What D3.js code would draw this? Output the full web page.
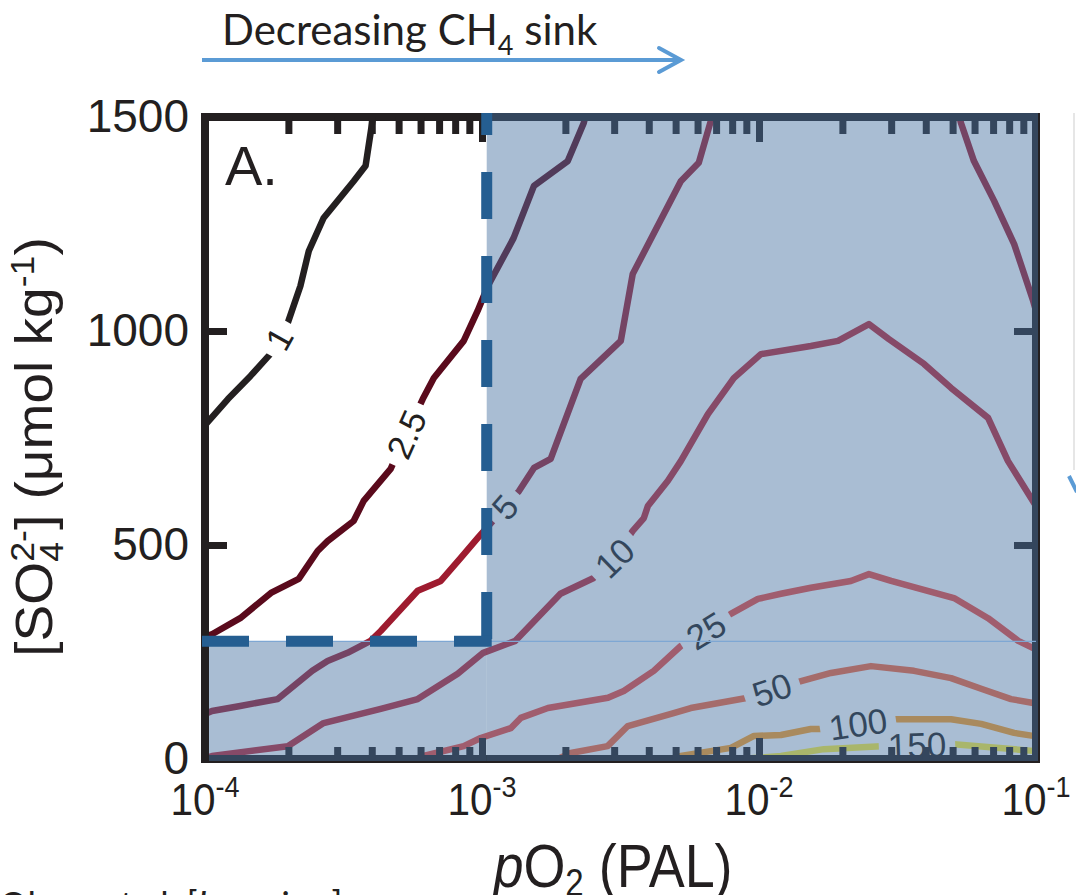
<!DOCTYPE html>
<html><head><meta charset="utf-8">
<script src="https://cdn.jsdelivr.net/npm/d3@7"></script>
<style>
html,body{margin:0;padding:0;background:#fff;}
svg{display:block;}
text{font-family:"Liberation Sans",Arial,sans-serif;fill:#231f20;}
</style></head><body>
<svg id="chart" width="1076" height="895"></svg>
<script>
// ---------------- data ----------------
const levels = ["1", "2.5", "5", "10", "25", "50", "100", "150"];
const levelColors = ["#231f20", "#5a0a1c", "#9e1b2f", "#bd2635", "#ee4a40", "#f8663c", "#ff9f22", "#fff23c"];

// contour lines: [pO2 (PAL), SO4 (umol/kg)]
const contour1 = [[1.0e-4, 780], [1.21e-4, 841], [1.46e-4, 895], [1.72e-4, 946], [1.99e-4, 1019], [2.21e-4, 1105], [2.37e-4, 1187], [2.68e-4, 1264], [3.44e-4, 1350], [3.80e-4, 1386], [4.03e-4, 1495], [4.1e-4, 1520]];
const contour2_5 = [[1.0e-4, 285], [1.064e-4, 292], [1.34e-4, 329], [1.73e-4, 388], [2.18e-4, 421], [2.55e-4, 486], [2.77e-4, 509], [3.44e-4, 556], [3.74e-4, 603], [4.68e-4, 678], [5.33e-4, 759], [6.11e-4, 841], [6.70e-4, 890], [8.59e-4, 977], [9.64e-4, 1047], [1.05e-3, 1105], [1.30e-3, 1217], [1.54e-3, 1339], [2.04e-3, 1397], [2.33e-3, 1486], [2.4e-3, 1520]];
const contour5 = [[1.0e-4, 105], [1.06e-4, 112], [1.34e-4, 124], [1.83e-4, 140], [2.44e-4, 206], [2.77e-4, 229], [3.27e-4, 248], [3.96e-4, 276], [4.31e-4, 299], [5.86e-4, 393], [7.10e-4, 416], [8.38e-4, 470], [9.64e-4, 516], [1.07e-3, 549], [1.21e-3, 589], [1.36e-3, 626], [1.54e-3, 680], [1.77e-3, 701], [2.27e-3, 888], [3.17e-3, 977], [3.50e-3, 1133], [5.22e-3, 1350], [6.06e-3, 1393], [6.70e-3, 1491], [6.8e-3, 1520]];
const contour5b = [[0.0520, 1520], [0.0536, 1486], [0.0597, 1397], [0.0706, 1304], [0.0834, 1203], [0.0977, 1070], [0.1, 1047]];
const contour10 = [[1.0e-4, 2], [1.06e-4, 7], [1.99e-4, 30], [2.68e-4, 84], [4.31e-4, 117], [5.86e-4, 140], [8.17e-4, 199], [1.01e-3, 248], [1.32e-3, 276], [1.92e-3, 386], [2.53e-3, 423], [3.01e-3, 470], [3.50e-3, 533], [3.84e-3, 563], [3.97e-3, 591], [4.69e-3, 650], [5.22e-3, 696], [6.54e-3, 806], [8.11e-3, 890], [0.01016, 946], [0.01539, 965], [0.01928, 977], [0.02494, 1016], [0.02944, 981], [0.03942, 923], [0.04936, 867], [0.06714, 797], [0.07925, 696], [0.09594, 610], [0.1, 591]];
const contour25 = [[5.76e-4, 0], [6.15e-4, 7], [8.59e-4, 30], [9.89e-4, 49], [1.27e-3, 72], [1.38e-3, 96], [1.73e-3, 119], [2.85e-3, 143], [3.25e-3, 159], [4.17e-3, 206], [5.22e-3, 264], [6.43e-3, 300], [7.91e-3, 339], [9.91e-3, 374], [0.0120, 386], [0.01539, 400], [0.02146, 416], [0.02494, 432], [0.02999, 416], [0.05058, 376], [0.06714, 329], [0.0863, 276], [0.0977, 259], [0.1, 257]];
const contour50 = [[1.88e-3, 0], [2.09e-3, 14], [2.84e-3, 30], [3.36e-3, 77], [4.92e-3, 107], [5.67e-3, 119], [9.12e-3, 143], [0.01114, 162], [0.01419, 182], [0.0182, 201], [0.02537, 217], [0.03628, 206], [0.04936, 189], [0.06339, 164], [0.08128, 140], [0.0977, 131], [0.1, 129]];
const contour100 = [[5.01e-3, 0], [5.22e-3, 7], [7.92e-3, 26], [9.59e-3, 54], [0.0120, 56], [0.01539, 70], [0.01714, 70], [0.02275, 82], [0.03121, 93], [0.04936, 93], [0.06339, 82], [0.08337, 61], [0.0977, 54], [0.1, 51]];
const contour150 = [[8.61e-3, 0], [0.0120, 7], [0.01714, 23], [0.02754, 30], [0.03718, 33], [0.04936, 35], [0.0977, 19], [0.1, 19]];

// label anchor points [pO2, SO4] (null = unlabeled branch)
const labelPoints = [[1.85e-4, 982], [5.33e-4, 759], [1.21e-3, 589], null, [3.01e-3, 470], [6.43e-3, 300], [0.01114, 162], [0.02275, 82], [0.03718, 33]];
const contourSets = [contour1, contour2_5, contour5, contour5b, contour10, contour25, contour50, contour100, contour150];
const contourLevels = ["1", "2.5", "5", "5", "10", "25", "50", "100", "150"];

const yTickValues = [0, 500, 1000, 1500];
const xMajorTicks = [1e-4, 1e-3, 1e-2, 1e-1];
const xTickExponents = ["-4", "-3", "-2", "-1"];

// shaded region bounds
const shadeMinPO2 = 1.04e-3;
const stripMaxSO4 = 275;

// ---------------- chart ----------------
const svg = d3.select("#chart");
const x = d3.scaleLog().domain([1e-4, 1e-1]).range([205, 1036]);
const y = d3.scaleLinear().domain([0, 1500]).range([759, 117]);
const [X0, X1] = x.range();
const [Y0, Y1] = y.range(); // Y0 bottom, Y1 top

const defs = svg.append("defs");
defs.append("clipPath").attr("id", "plotclip").append("rect")
  .attr("x", X0).attr("y", Y1).attr("width", X1 - X0).attr("height", Y0 - Y1);
const mask = defs.append("mask").attr("id", "labelmask")
  .attr("maskUnits", "userSpaceOnUse").attr("x", 0).attr("y", 0).attr("width", 1076).attr("height", 895);
mask.append("rect").attr("width", 1076).attr("height", 895).attr("fill", "white");

const line = d3.line().x(d => x(d[0])).y(d => y(d[1])).curve(d3.curveLinear);

const plot = svg.append("g").attr("clip-path", "url(#plotclip)");
const linesG = plot.append("g").attr("mask", "url(#labelmask)");
const labelsG = plot.append("g");

contourSets.forEach((pts, i) => {
  const col = levelColors[levels.indexOf(contourLevels[i])];
  linesG.append("path").datum(pts).attr("d", line)
    .attr("fill", "none").attr("stroke", col).attr("stroke-width", 6.5)
    .attr("stroke-linejoin", "round");
  const lp = labelPoints[i];
  if (!lp) return;
  const px = x(lp[0]), py = y(lp[1]);
  let best = Infinity, ang = 0;
  for (let k = 0; k < pts.length - 1; k++) {
    const ax = x(pts[k][0]), ay = y(pts[k][1]), bx = x(pts[k + 1][0]), by = y(pts[k + 1][1]);
    const dx = bx - ax, dy = by - ay;
    const t = Math.max(0, Math.min(1, ((px - ax) * dx + (py - ay) * dy) / (dx * dx + dy * dy)));
    const cx = ax + t * dx, cy = ay + t * dy;
    const d = Math.hypot(px - cx, py - cy);
    if (d < best) { best = d; ang = Math.atan2(dy, dx) * 180 / Math.PI; }
  }
  if (ang > 90) ang -= 180;
  if (ang < -90) ang += 180;
  const tr = `translate(${px},${py}) rotate(${ang})`;
  const t = labelsG.append("text").attr("transform", tr)
    .attr("text-anchor", "middle").attr("dy", "0.36em")
    .style("font-size", "35px").text(contourLevels[i]);
  const w = t.node().getComputedTextLength();
  const pad = 9;
  mask.append("rect").attr("transform", tr)
    .attr("x", -w / 2 - pad).attr("y", -14).attr("width", w + 2 * pad).attr("height", 28)
    .attr("fill", "black");
});

// frame
svg.append("rect").attr("x", X0).attr("y", Y1).attr("width", X1 - X0).attr("height", Y0 - Y1)
  .attr("fill", "none").attr("stroke", "#231f20").attr("stroke-width", 8);

// ticks
const allLogTicks = x.ticks();
const majorSet = new Set(xMajorTicks.map(v => v.toExponential(3)));
const minorTicks = allLogTicks.filter(v => !majorSet.has(v.toExponential(3)));
function styleTicks(g) {
  g.select(".domain").remove();
  g.selectAll(".tick line").attr("stroke", "#231f20").attr("stroke-width", 7);
  g.selectAll(".tick text").remove();
}
svg.append("g").attr("transform", `translate(0,${Y1})`)
  .call(d3.axisBottom(x).tickValues(minorTicks).tickSize(17).tickFormat("")).call(styleTicks);
svg.append("g").attr("transform", `translate(0,${Y1})`)
  .call(d3.axisBottom(x).tickValues(xMajorTicks).tickSize(25).tickFormat("")).call(styleTicks);
svg.append("g").attr("transform", `translate(0,${Y0})`)
  .call(d3.axisTop(x).tickValues(minorTicks).tickSize(12).tickFormat("")).call(styleTicks);
svg.append("g").attr("transform", `translate(0,${Y0})`)
  .call(d3.axisTop(x).tickValues(xMajorTicks).tickSize(21).tickFormat("")).call(styleTicks);
svg.append("g").attr("transform", `translate(${X0},0)`)
  .call(d3.axisRight(y).tickValues(yTickValues).tickSize(22).tickFormat("")).call(styleTicks);
svg.append("g").attr("transform", `translate(${X1},0)`)
  .call(d3.axisLeft(y).tickValues(yTickValues).tickSize(22).tickFormat("")).call(styleTicks);

// y tick labels
const yLab = svg.append("g").attr("transform", `translate(${X0},0)`)
  .call(d3.axisLeft(y).tickValues(yTickValues).tickSize(0).tickPadding(16).tickFormat(d3.format("d")));
yLab.select(".domain").remove();
yLab.selectAll(".tick text").attr("fill", "#231f20").style("font-size", "46px")
  .style("font-family", '"Liberation Sans",Arial,sans-serif');

// x tick labels
xMajorTicks.forEach((v, i) => {
  const t = svg.append("text").attr("transform", `translate(${x(v)},815) scale(0.9,1)`)
    .attr("text-anchor", "middle").style("font-size", "45px");
  t.append("tspan").text("10");
  t.append("tspan").attr("dy", -18).style("font-size", "30px").text(xTickExponents[i]);
});

// "A." panel label
svg.append("text").attr("x", 225).attr("y", 185).style("font-size", "56px").text("A.");

// shaded overlay
const shadeFill = "rgb(72,115,162)", shadeOpacity = 0.47;
svg.append("rect").attr("x", x(shadeMinPO2)).attr("y", Y1 - 4)
  .attr("width", X1 + 2 - x(shadeMinPO2)).attr("height", Y0 + 2 - (Y1 - 4))
  .attr("fill", shadeFill).attr("fill-opacity", shadeOpacity);
svg.append("rect").attr("x", X0 + 4).attr("y", y(stripMaxSO4))
  .attr("width", x(shadeMinPO2) - (X0 + 4)).attr("height", Y0 + 2 - y(stripMaxSO4))
  .attr("fill", shadeFill).attr("fill-opacity", shadeOpacity);
svg.append("line").attr("x1", X0 + 4).attr("x2", X1).attr("y1", y(stripMaxSO4)).attr("y2", y(stripMaxSO4))
  .attr("stroke", "#7ea7d3").attr("stroke-width", 1.2);

// dashed boundary
const dashCol = "#255e91";
svg.append("line").attr("x1", x(shadeMinPO2)).attr("x2", x(shadeMinPO2))
  .attr("y1", Y1 - 4).attr("y2", y(stripMaxSO4) + 5)
  .attr("stroke", dashCol).attr("stroke-width", 11)
  .attr("stroke-dasharray", "47,37").attr("stroke-dashoffset", 25);
svg.append("line").attr("x1", X0 - 3).attr("x2", x(shadeMinPO2) + 5)
  .attr("y1", y(stripMaxSO4)).attr("y2", y(stripMaxSO4))
  .attr("stroke", dashCol).attr("stroke-width", 11)
  .attr("stroke-dasharray", "47,37");

// axis titles
const xt = svg.append("text").attr("transform", "translate(613,887) scale(0.87,1)")
  .attr("text-anchor", "middle").style("font-size", "62px");
xt.append("tspan").style("font-style", "italic").text("p");
xt.append("tspan").text("O");
xt.append("tspan").attr("dy", 9).style("font-size", "38px").text("2");
xt.append("tspan").attr("dy", -9).text(" (PAL)");

const yt = svg.append("text").attr("transform", "translate(52,447) rotate(-90) scale(1.08,1)")
  .attr("text-anchor", "middle").style("font-size", "51px");
yt.append("tspan").text("[SO");
yt.append("tspan").attr("dy", 11).style("font-size", "33px").text("4");
yt.append("tspan").attr("dx", -18.3).attr("dy", -29).style("font-size", "33px").text("2-");
yt.append("tspan").attr("dy", 18).text("] (\u03bcmol kg");
yt.append("tspan").attr("dy", -18).style("font-size", "33px").text("-1");
yt.append("tspan").attr("dy", 18).text(")");

// top annotation
const arrowCol = "#5b9bd5";
const tt = svg.append("text").attr("x", 222).attr("y", 45)
  .style("font-family", "Lato, 'Open Sans', sans-serif").style("font-size", "42px");
tt.append("tspan").text("Decreasing CH");
tt.append("tspan").attr("dy", 10).style("font-size", "27px").text("4");
tt.append("tspan").attr("dy", -10).text(" sink");
svg.append("line").attr("x1", 202).attr("x2", 679).attr("y1", 60).attr("y2", 60)
  .attr("stroke", arrowCol).attr("stroke-width", 4);
svg.append("path").attr("d", "M659,48 L681,60 L659,72").attr("fill", "none")
  .attr("stroke", arrowCol).attr("stroke-width", 4).attr("stroke-linecap", "round");

// cut-off neighbour panel fragments at right edge
svg.append("line").attr("x1", 1074).attr("x2", 1074).attr("y1", 113).attr("y2", 470)
  .attr("stroke", "#e6e6e6").attr("stroke-width", 2);
svg.append("path").attr("d", "M1069,476 L1077,492").attr("stroke", arrowCol).attr("stroke-width", 4);

// cut-off citation at bottom
const ct = svg.append("text").attr("x", -1).attr("y", 918)
  .style("font-family", "Lato, 'Open Sans', sans-serif").style("font-size", "36px");
ct.append("tspan").text("Olson et al. [");
ct.append("tspan").style("font-style", "italic").text("In review");
ct.append("tspan").text("]");
</script>
</body></html>
